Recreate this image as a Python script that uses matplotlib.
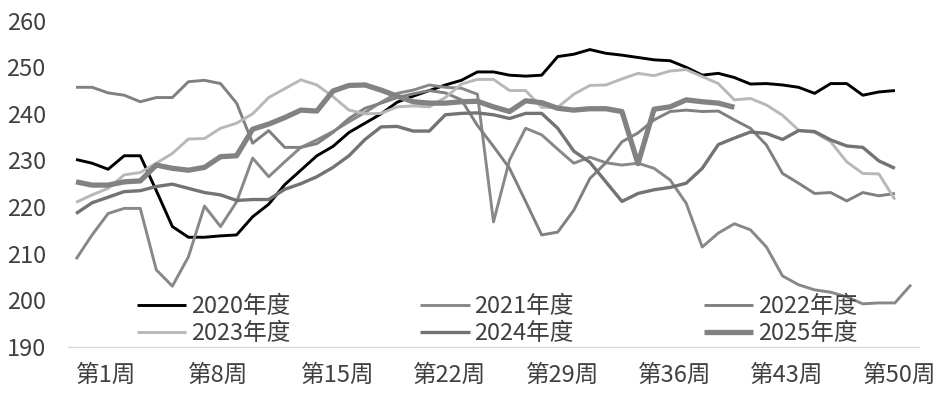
import numpy as np
import matplotlib
matplotlib.use("Agg")
import matplotlib.pyplot as plt

plt.rcParams['font.family'] = ['Noto Sans CJK SC', 'DejaVu Sans']

weeks = [f"第{i}周" for i in range(1, 54)]
tick_every = 7

y2020 = [230.2, 229.4, 228.1, 231.0, 231.0, 223.5, 215.8, 213.5, 213.5, 213.8,
         214.0, 217.9, 220.6, 224.8, 227.9, 231.0, 233.0, 236.0, 238.0, 240.0,
         242.5, 243.8, 245.0, 246.2, 247.2, 249.0, 249.0, 248.3, 248.1, 248.3,
         252.3, 252.8, 253.8, 253.0, 252.6, 252.1, 251.6, 251.4, 250.0, 248.3,
         248.7, 247.8, 246.4, 246.5, 246.2, 245.7, 244.4, 246.5, 246.5, 244.0,
         244.7, 245.0]
y2021 = [208.8, 214.0, 218.6, 219.7, 219.7, 206.5, 203.0, 209.3, 220.2, 215.8,
         221.1, 230.5, 226.5, 229.7, 232.8, 234.4, 236.2, 238.3, 240.3, 242.5,
         244.4, 245.1, 246.2, 245.7, 245.5, 244.2, 216.8, 230.1, 236.9, 235.5,
         232.4, 229.4, 230.7, 229.5, 229.0, 229.4, 228.3, 225.8, 220.8, 211.4,
         214.4, 216.4, 215.1, 211.4, 205.2, 203.3, 202.2, 201.7, 200.7, 199.2,
         199.4, 199.4, 203.3]
y2022 = [245.7, 245.7, 244.5, 244.0, 242.6, 243.5, 243.5, 246.9, 247.2, 246.5,
         242.3, 233.7, 236.4, 232.8, 232.8, 233.6, 236.0, 239.0, 241.2, 242.3,
         243.5, 244.3, 245.0, 244.5, 243.0, 237.5, 233.0, 228.3, 221.2, 214.0,
         214.6, 219.3, 226.1, 229.5, 234.0, 235.9, 238.7, 240.5, 240.8, 240.5,
         240.6, 238.7, 236.9, 233.3, 227.2, 225.1, 222.9, 223.1, 221.3, 223.1,
         222.4, 222.9]
y2023 = [221.0, 222.6, 224.0, 226.9, 227.4, 229.4, 231.5, 234.6, 234.7, 236.9,
         238.0, 240.0, 243.5, 245.4, 247.3, 246.2, 243.7, 240.8, 240.0, 240.1,
         241.5, 241.7, 241.5, 243.5, 246.4, 247.4, 247.4, 245.0, 245.0, 241.4,
         241.4, 244.2, 246.1, 246.2, 247.5, 248.7, 248.2, 249.2, 249.5, 248.0,
         246.5, 243.0, 243.3, 241.9, 239.7, 236.5, 236.0, 234.0, 229.7, 227.2,
         227.1, 221.6]
y2024 = [218.6, 220.9, 222.1, 223.3, 223.5, 224.4, 224.9, 224.0, 223.1, 222.6,
         221.4, 221.6, 221.6, 223.8, 225.0, 226.5, 228.5, 231.0, 234.5, 237.2,
         237.3, 236.3, 236.3, 239.8, 240.1, 240.2, 239.8, 239.0, 240.1, 240.1,
         236.9, 232.0, 229.6, 225.4, 221.2, 222.9, 223.7, 224.2, 225.1, 228.3,
         233.4, 234.8, 236.1, 235.8, 234.5, 236.4, 236.2, 234.4, 233.1, 232.8,
         229.9, 228.3]
y2025 = [225.4, 224.7, 224.7, 225.4, 225.6, 229.0, 228.3, 227.9, 228.5, 230.8,
         231.0, 236.7, 237.8, 239.2, 240.8, 240.6, 244.9, 246.1, 246.2, 245.1,
         243.8, 242.6, 242.3, 242.3, 242.6, 242.7, 241.5, 240.5, 242.8, 242.4,
         241.2, 240.8, 241.1, 241.1, 240.5, 229.3, 241.0, 241.5, 243.0, 242.6,
         242.3, 241.4]

series = [
    ("2020年度", y2020, "#000000", 2.1),
    ("2021年度", y2021, "#888888", 2.1),
    ("2022年度", y2022, "#808080", 2.1),
    ("2023年度", y2023, "#b8b8b8", 2.1),
    ("2024年度", y2024, "#737373", 2.4),
    ("2025年度", y2025, "#828282", 3.8),
]

fig = plt.figure(figsize=(9.41, 3.99), dpi=100)
ax = fig.add_axes([68 / 941, 52.3 / 399, 851 / 941, 326 / 399])

handles = []
for name, vals, color, lw in series:
    h, = ax.plot(np.arange(len(vals)), vals, color=color, lw=lw, label=name,
                 solid_joinstyle='round', solid_capstyle='butt')
    handles.append(h)

ax.set_xlim(-0.5, len(weeks) - 0.5)
ax.set_ylim(190, 260)
ax.set_yticks(np.arange(190, 261, 10))

tick_pos = np.arange(0, len(weeks), tick_every)
ax.set_xticks(tick_pos)
ax.set_xticklabels([weeks[i] for i in tick_pos])
for lab in ax.get_xticklabels():
    lab.set_ha('left')

for s in ['top', 'right', 'left']:
    ax.spines[s].set_visible(False)
ax.spines['bottom'].set_color('#d9d9d9')
ax.spines['bottom'].set_linewidth(1.0)

ax.tick_params(axis='both', length=0, labelsize=17, colors='#404040')
ax.tick_params(axis='y', pad=16)
ax.tick_params(axis='x', pad=12)

# matplotlib fills legend columns first; order so rows read 2020-2022, 2023-2025
order = [0, 3, 1, 4, 2, 5]
leg = ax.legend([handles[i] for i in order], [series[i][0] for i in order],
                ncol=3, loc='center', bbox_to_anchor=(497 / 941, 1 - 320 / 399),
                bbox_transform=fig.transFigure, frameon=False, fontsize=17,
                handlelength=2.1, handletextpad=0.2, columnspacing=5.5,
                labelspacing=0.18, borderpad=0)
for t in leg.get_texts():
    t.set_color('#404040')

fig.savefig("out.png", dpi=100)
